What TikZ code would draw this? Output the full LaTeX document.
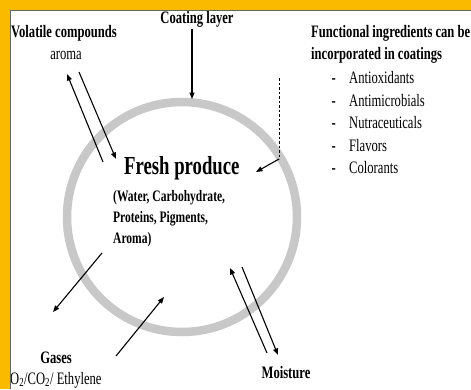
\documentclass[tikz,border=0pt]{standalone}
\usepackage{fontspec}
\setmainfont{Liberation Serif}[FakeStretch=0.72]
\usepackage{tikz}
\usetikzlibrary{arrows.meta, positioning}
\definecolor{framey}{RGB}{250,186,0}
\definecolor{ringgray}{RGB}{200,200,200}
\tikzstyle{head} = [inner sep=0pt, font=\fontsize{17.5}{21}\selectfont\bfseries]
\tikzstyle{txt} = [inner sep=0pt, font=\fontsize{17.5}{21}\selectfont]
\tikzstyle{arrow} = [line width=1.1pt, -{Triangle[length=6.5pt, width=5pt]}]

\begin{document}
\begin{tikzpicture}[x=1pt, y=-1pt]
    \clip (0,0) rectangle (471,389);
    \fill[white] (0,0) rectangle (471,389);
    % produce ring
    \node[circle, draw=ringgray, line width=8.5pt, minimum size=230pt, inner sep=0pt] (ring) at (182,217) {};
    % texts
    \node[head] (coat) at (197,19) {Coating layer};
    \node[head, anchor=west] (vol) at (11,33) {Volatile compounds};
    \node[txt] (aroma) at (66,55) {aroma};
    \node[head, anchor=west] (func) at (311,33) {Functional ingredients can be};
    \node[head, anchor=west] (inc) at (311,55) {incorporated in coatings};
    \foreach \t [count=\i] in {Antioxidants, Antimicrobials, Nutraceuticals, Flavors, Colorants} {
      \node[txt, anchor=base east] (dash\i) at (336,61+22.5*\i) {\textbf{-}};
      \node[txt, anchor=base west] (item\i) at (349,61+22.5*\i) {\t};
    }
    \node[head, font=\fontsize{26}{30}\selectfont\bfseries, anchor=west] (fresh) at (124,168) {Fresh produce};
    \node[head, font=\fontsize{16}{21}\selectfont\bfseries, align=left, anchor=west] (comp) at (113,219) {(Water, Carbohydrate,\\Proteins, Pigments,\\Aroma)};
    \node[head] (gas) at (56,358) {Gases};
    \node[txt, anchor=west] (gasmix) at (10,380) {O\textsubscript{2}/CO\textsubscript{2}/ Ethylene};
    \node[head] (moist) at (286,373) {Moisture};
    % arrow ends
    \coordinate (c1) at (192,29);
    \coordinate (c2) at (192,99);
    \coordinate (a1) at (103,162);
    \coordinate (a2) at (67,74);
    \coordinate (a3) at (79,72);
    \coordinate (a4) at (116,159);
    \coordinate (d1) at (279,78);
    \coordinate (d2) at (279,159);
    \coordinate (d3) at (256,172);
    \coordinate (g1) at (102,253);
    \coordinate (g2) at (53,312);
    \coordinate (g3) at (116,356);
    \coordinate (g4) at (164,297);
    \coordinate (m1) at (267,353);
    \coordinate (m2) at (230,268);
    \coordinate (m3) at (242,267);
    \coordinate (m4) at (278,355);
    \draw[arrow] (c1) -- (c2);
    \draw[arrow] (a1) -- (a2);
    \draw[arrow] (a3) -- (a4);
    \draw[line width=0.9pt, dash pattern=on 2.5pt off 2pt] (d1) -- (d2);
    \draw[arrow] (d2) -- (d3);
    \draw[arrow] (g1) -- (g2);
    \draw[arrow] (g3) -- (g4);
    \draw[arrow] (m1) -- (m2);
    \draw[arrow] (m3) -- (m4);
    % frame
    \fill[framey] (0,0) rectangle (471,10);
    \fill[framey] (0,0) rectangle (10,389);
    \draw[black!60, line width=0.8pt] (10,389) -- (10,10) -- (471,10);
  \end{tikzpicture}
\end{document}
